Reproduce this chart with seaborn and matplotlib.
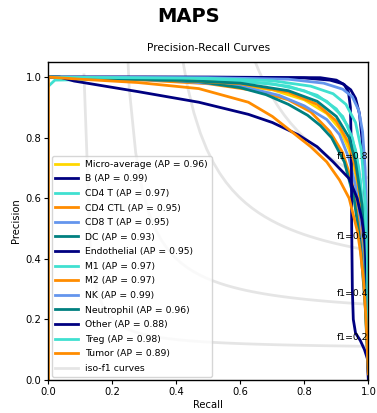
import numpy as np
import matplotlib
matplotlib.use("Agg")
import matplotlib.pyplot as plt
import seaborn as sns
from matplotlib.lines import Line2D

# ---- data ----
class_names = ["B", "CD4 T", "CD4 CTL", "CD8 T", "DC", "Endothelial", "M1",
               "M2", "NK", "Neutrophil", "Other", "Treg", "Tumor"]
class_ap = [0.99, 0.97, 0.95, 0.95, 0.93, 0.95, 0.97, 0.97, 0.99, 0.96, 0.88, 0.98, 0.89]
micro_ap = 0.96
f_scores = [0.2, 0.4, 0.6, 0.8]

micro_recall = [0, 0.2, 0.5, 0.7, 0.8, 0.87, 0.91, 0.94, 0.96, 0.98, 0.99, 1.0]
micro_precision = [1.0, 0.995, 0.985, 0.958, 0.925, 0.88, 0.83, 0.76, 0.68, 0.55, 0.4, 0.05]

b_recall = [0, 0.3, 0.6, 0.8, 0.88, 0.92, 0.945, 0.96, 0.972, 0.98, 0.99, 0.997, 1.0]
b_precision = [1.0, 1.0, 0.999, 0.997, 0.99, 0.978, 0.958, 0.93, 0.88, 0.8, 0.6, 0.3, 0.03]

cd4t_recall = [0, 0.02, 0.3, 0.6, 0.75, 0.84, 0.9, 0.935, 0.96, 0.975, 0.99, 1.0]
cd4t_precision = [0.97, 0.99, 0.995, 0.988, 0.97, 0.94, 0.895, 0.84, 0.76, 0.66, 0.45, 0.04]

cd4ctl_recall = [0, 0.3, 0.5, 0.65, 0.75, 0.82, 0.88, 0.92, 0.95, 0.97, 0.985, 1.0]
cd4ctl_precision = [1.0, 0.99, 0.978, 0.955, 0.925, 0.885, 0.82, 0.75, 0.65, 0.52, 0.36, 0.04]

cd8t_recall = [0, 0.4, 0.6, 0.72, 0.8, 0.87, 0.91, 0.94, 0.96, 0.98, 0.99, 1.0]
cd8t_precision = [1.0, 0.988, 0.97, 0.94, 0.905, 0.86, 0.81, 0.73, 0.64, 0.5, 0.35, 0.04]

dc_recall = [0, 0.3, 0.47, 0.6, 0.68, 0.75, 0.81, 0.85, 0.885, 0.925, 0.955, 0.975, 0.99, 1.0]
dc_precision = [1.0, 0.992, 0.985, 0.965, 0.942, 0.91, 0.874, 0.84, 0.8, 0.72, 0.6, 0.45, 0.25, 0.02]

endo_recall = [0, 0.5, 0.85, 0.9, 0.925, 0.938, 0.944, 0.947, 0.948, 0.95, 0.953,
               0.96, 0.975, 0.988, 0.997, 1.0]
endo_precision = [1.0, 1.0, 0.998, 0.99, 0.975, 0.95, 0.9, 0.75, 0.5, 0.3, 0.2,
                  0.155, 0.13, 0.1, 0.07, 0.0]

m1_recall = [0, 0.5, 0.7, 0.8, 0.87, 0.92, 0.95, 0.97, 0.985, 0.995, 1.0]
m1_precision = [1.0, 0.992, 0.978, 0.955, 0.92, 0.87, 0.8, 0.7, 0.55, 0.35, 0.04]

m2_recall = [0, 0.4, 0.6, 0.75, 0.84, 0.9, 0.94, 0.96, 0.975, 0.99, 1.0]
m2_precision = [1.0, 0.99, 0.978, 0.95, 0.91, 0.855, 0.78, 0.7, 0.6, 0.4, 0.04]

nk_recall = [0, 0.5, 0.75, 0.86, 0.92, 0.95, 0.97, 0.982, 0.99, 0.997, 1.0]
nk_precision = [1.0, 0.998, 0.993, 0.98, 0.96, 0.935, 0.89, 0.82, 0.7, 0.45, 0.03]

neut_recall = [0, 0.4, 0.6, 0.75, 0.84, 0.9, 0.94, 0.96, 0.98, 0.99, 1.0]
neut_precision = [1.0, 0.99, 0.98, 0.955, 0.92, 0.87, 0.8, 0.72, 0.58, 0.42, 0.04]

other_recall = [0, 0.035, 0.08, 0.28, 0.47, 0.625, 0.7, 0.78, 0.84, 0.89, 0.94,
                0.965, 0.98, 0.99, 0.997, 1.0]
other_precision = [1.0, 1.0, 0.987, 0.952, 0.917, 0.877, 0.85, 0.81, 0.77, 0.72, 0.665,
                   0.6, 0.53, 0.45, 0.3, 0.02]

treg_recall = [0, 0.5, 0.7, 0.82, 0.89, 0.93, 0.96, 0.978, 0.99, 0.997, 1.0]
treg_precision = [1.0, 0.996, 0.988, 0.97, 0.945, 0.91, 0.85, 0.76, 0.6, 0.4, 0.03]

tumor_recall = [0, 0, 0.1, 0.28, 0.47, 0.625, 0.7, 0.76, 0.82, 0.87, 0.91, 0.94,
                0.966, 0.975, 0.985, 0.993, 1.0]
tumor_precision = [0.0, 1.0, 0.993, 0.982, 0.962, 0.917, 0.87, 0.82, 0.77, 0.72, 0.66, 0.6,
                   0.49, 0.425, 0.33, 0.2, 0.02]

class_recalls = [b_recall, cd4t_recall, cd4ctl_recall, cd8t_recall, dc_recall, endo_recall,
                 m1_recall, m2_recall, nk_recall, neut_recall, other_recall, treg_recall,
                 tumor_recall]
class_precisions = [b_precision, cd4t_precision, cd4ctl_precision, cd8t_precision,
                    dc_precision, endo_precision, m1_precision, m2_precision, nk_precision,
                    neut_precision, other_precision, treg_precision, tumor_precision]

colors = ["navy", "turquoise", "darkorange", "cornflowerblue", "teal"]

fig, ax = plt.subplots(figsize=(3.77, 4.13), dpi=100)
fig.subplots_adjust(left=0.1286, right=0.977, bottom=0.08, top=0.85)

# iso-f1 reference curves
x_iso = np.linspace(0.01, 1, 50)
for f in f_scores:
    y_iso = f * x_iso / (2 * x_iso - f)
    keep = y_iso >= 0
    ax.plot(x_iso[keep], y_iso[keep], color="gray", alpha=0.2, lw=2)
    ax.annotate(f"f1={f:0.1f}", xy=(0.9, y_iso[45] + 0.02), fontsize=6.7,
                annotation_clip=False, clip_on=True)

handles = []
sns.lineplot(x=micro_recall, y=micro_precision, sort=False, estimator=None,
             color="gold", lw=2, ax=ax)
handles.append(Line2D([], [], color="gold", lw=2,
                      label=f"Micro-average (AP = {micro_ap:0.2f})"))

for i, name in enumerate(class_names):
    c = colors[i % len(colors)]
    sns.lineplot(x=class_recalls[i], y=class_precisions[i], sort=False, estimator=None,
                 color=c, lw=2, ax=ax)
    handles.append(Line2D([], [], color=c, lw=2, label=f"{name} (AP = {class_ap[i]:0.2f})"))

handles.append(Line2D([], [], color="gray", alpha=0.2, lw=2, label="iso-f1 curves"))

ax.set_xlim(0.0, 1.0)
ax.set_ylim(0.0, 1.05)
ax.set_xlabel("Recall", fontsize=7.2, labelpad=2)
ax.set_ylabel("Precision", fontsize=7.2, labelpad=3)
ax.set_title("Precision-Recall Curves", fontsize=7.6, pad=8)
ax.tick_params(labelsize=7.2, length=3, width=0.8, pad=2)
for s in ax.spines.values():
    s.set_linewidth(1.0)

ax.legend(handles=handles, loc="lower left", fontsize=6.7, handlelength=2.4,
          borderaxespad=0.35, labelspacing=0.6)

fig.suptitle("MAPS", fontsize=14, fontweight="bold", y=0.982)

fig.savefig("out.png", dpi=100)
plt.close(fig)
